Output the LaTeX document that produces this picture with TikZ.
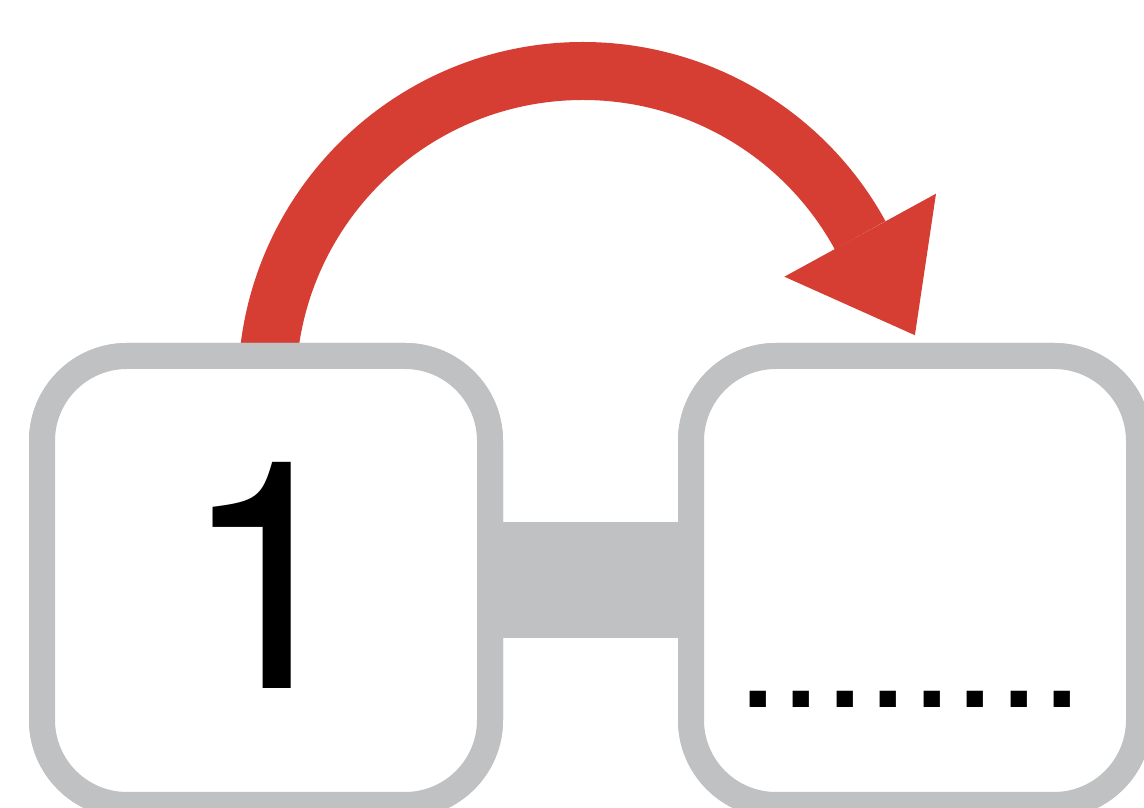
\documentclass[tikz,border=0pt]{standalone}
\usepackage{fontspec}
\setmainfont{TeX Gyre Heros}
\definecolor{boxgray}{HTML}{C0C1C3}
\definecolor{arrowred}{HTML}{D63E34}
\begin{document}
\begin{tikzpicture}[x=1pt,y=1pt,
  slotbox/.style={draw=boxgray, line width=26pt, fill=white, rounded corners=85pt,
    minimum width=448pt, minimum height=449pt, inner sep=0pt, outer sep=0pt},
  bridge/.style={draw=boxgray, line width=116pt},
  bigarc/.style={draw=arrowred, line width=58pt},
  headtip/.style={fill=arrowred}]
\useasboundingbox (0,0) rectangle (1144,808);
\fill[white] (0,0) rectangle (1144,808);
% red curved arrow
\coordinate (arcstart) at (267,421);
\draw[bigarc] (arcstart) arc[start angle=180, end angle=28.7, radius=316];
\coordinate (barbL) at (784.4,531.3);
\coordinate (tip) at (914.9,472.8);
\coordinate (barbR) at (936.0,614.3);
\fill[headtip] (barbL) -- (tip) -- (barbR) -- cycle;
% boxes
\node[slotbox] (b1) at (266,227.5) {};
\node[slotbox] (b2) at (915,227.5) {};
\draw[bridge] (b1.east) -- (b2.west);
\node[slotbox] at (266,227.5) {};
\node[slotbox] at (915,227.5) {};
% texts
\node[anchor=base, inner sep=0pt, font=\fontsize{319}{319}\selectfont] (one) at (269,119) {1};
\node[anchor=base west, inner sep=0pt, font=\fontsize{156.5}{156.5}\selectfont] (dots) at (735.8,100) {........};
\end{tikzpicture}
\end{document}
